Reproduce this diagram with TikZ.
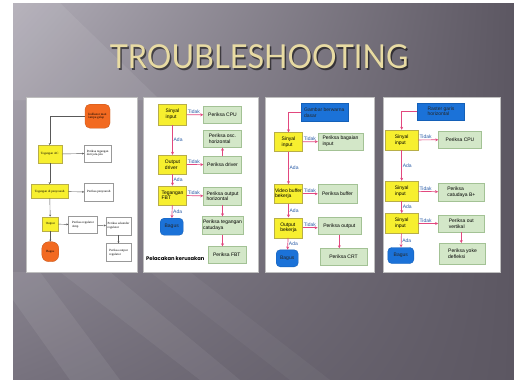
\documentclass[tikz,border=0pt]{standalone}
\usepackage{fontspec}
\setmainfont{Liberation Sans}
\newfontfamily\titlefont{Lato}
\newfontfamily\notefont{Poppins}
\newfontfamily\tinyfont{Liberation Serif}
\usetikzlibrary{arrows.meta,shadings}

\definecolor{slidedark}{HTML}{5C5762}
\definecolor{slidemid}{HTML}{77727E}
\definecolor{slidelight}{HTML}{B1ADB7}
\definecolor{titlegold}{HTML}{E8DBA3}
\definecolor{condfill}{HTML}{F7EF2F}
\definecolor{condedge}{HTML}{B8AE48}
\definecolor{checkfill}{HTML}{D3E7C8}
\definecolor{checkedge}{HTML}{A3C295}
\definecolor{goalfill}{HTML}{1B72D8}
\definecolor{goaledge}{HTML}{1460B8}
\definecolor{flowpink}{HTML}{E2487E}
\definecolor{tagblue}{HTML}{2B5DA8}
\definecolor{oldorange}{HTML}{F26A21}

\tikzset{
  box/.style={font=\fontsize{5}{5.6}\selectfont, align=left, inner sep=1pt, line width=0.4pt},
  cond/.style={box, draw=condedge, fill=condfill, minimum width=28pt, minimum height=20pt},
  check/.style={box, draw=checkedge, fill=checkfill, minimum width=38pt, minimum height=17pt},
  goal/.style={box, draw=goaledge, fill=goalfill, text=black!85, rounded corners=4pt, minimum width=23pt, minimum height=17pt},
  source/.style={box, draw=goaledge, fill=goalfill, text=black!85, minimum width=47pt, minimum height=18pt},
  flow/.style={draw=flowpink, line width=0.7pt, -{Stealth[length=3pt,width=3pt]}},
  flowtag/.style={font=\fontsize{5}{6}\selectfont, text=tagblue, inner sep=0.8pt},
  oldbox/.style={font=\tinyfont\fontsize{3.2}{3.8}\selectfont, align=left, inner sep=0.8pt, line width=0.3pt},
  oldcond/.style={oldbox, draw=condedge, fill=condfill},
  oldcheck/.style={oldbox, draw=black!40, fill=white},
  oldend/.style={oldbox, draw=oldorange!80!black, fill=oldorange, rounded corners=5pt},
  oldflow/.style={draw=black!65, line width=0.4pt, -{Stealth[length=2pt,width=2pt]}},
  panel/.style={fill=white, draw=black!25, line width=0.5pt},
  headline/.style={font=\titlefont\fontsize{33}{33}\selectfont, xscale=0.93},
}

\begin{document}
\begin{tikzpicture}[x=1pt,y=-1pt]
  \useasboundingbox (0,0) rectangle (514,380);
  % slide background
  \fill[white] (0,0) rectangle (514,380);
  \shade[upper left=slidelight, upper right=slidedark, lower left=slidemid, lower right=slidedark]
    (13,3) rectangle (514,380);
  \fill[white, opacity=0.08] (13,3) -- (60,3) -- (160,100) -- (13,100) -- cycle;
  \fill[white, opacity=0.07] (13,272) -- (40,272) -- (120,380) -- (70,380) -- (13,300) -- cycle;
  \fill[white, opacity=0.06] (60,272) -- (110,272) -- (240,380) -- (200,380) -- cycle;
  \fill[white, opacity=0.04] (150,272) -- (190,272) -- (330,380) -- (290,380) -- cycle;

  % title
  \node[headline, text=black, opacity=0.55] at (260.5,58.5) {TROUBLESHOOTING};
  \node (title) [headline, text=titlegold] at (259,57) {TROUBLESHOOTING};

  % panels
  \draw[panel] (26,97) rectangle (137,272);
  \draw[panel] (143,97) rectangle (258,272);
  \draw[panel] (265,97) rectangle (374,272);
  \draw[panel] (383,97) rectangle (500,272);

  % panel 1
  \node (ind) [oldend, minimum width=25pt, minimum height=24pt] at (97.5,116.2) {Indikator mati\\lampu gelap};
  \node (ac) [oldcond, minimum width=24pt, minimum height=18pt] at (49.7,154.2) {Tegangan AC};
  \node (pjala) [oldcheck, minimum width=27pt, minimum height=17pt] at (97.7,153.3) {Periksa tegangan\\dari jala-jala};
  \node (pen) [oldcond, minimum width=37pt, minimum height=14pt] at (49.7,191.3) {Tegangan di penyearah};
  \node (ppen) [oldcheck, minimum width=29pt, minimum height=18pt] at (98.8,192.2) {Periksa penyearah};
  \node (out1) [oldcond, minimum width=16pt, minimum height=14pt] at (50.3,223.8) {Output};
  \node (preg) [oldcheck, minimum width=29pt, minimum height=17pt] at (83,225) {Periksa regulator\\Amp};
  \node (psek) [oldcheck, minimum width=25pt, minimum height=18pt] at (118.5,225.8) {Periksa sekunder\\regulator};
  \node (pouter) [oldcheck, minimum width=25pt, minimum height=18pt] at (118.5,252.5) {Periksa output\\regulator};
  \node (bagus1) [oldend, rounded corners=7pt, minimum width=17pt, minimum height=20pt] at (50.3,251.7) {Bagus};
  \begin{scope}[oldflow]
    \draw (ind.west) -| (ac.north);
    \draw (ac) to (pjala);
    \draw (ac) to (pen);
    \draw (pen) to (ppen);
    \draw (pen) to (out1);
    \draw (out1) to (preg);
    \draw (preg) to (psek);
    \draw (psek) to (pouter);
    \draw (out1) to (bagus1);
  \end{scope}

  % panel 2
  \node (sin2) [cond, minimum height=21pt] at (172.5,114.5) {Sinyal\\input};
  \node (cpu2) [check] at (222.5,115) {Periksa CPU};
  \node (osc) [check] at (222.5,139) {Periksa osc.\\horizontal};
  \node (drv) [cond, minimum height=19pt] at (172.5,164.5) {Output\\driver};
  \node (pdrv) [check] at (222.5,164.7) {Periksa driver};
  \node (fbt) [cond, minimum height=19pt] at (172.5,195.3) {Tegangan\\FBT};
  \node (phor) [check, minimum height=18pt] at (222.5,196.2) {Periksa output\\horizontal};
  \node (bagus2) [goal] at (171.7,226.7) {Bagus};
  \node (catu2) [check, minimum height=18pt] at (222.5,225.5) {Periksa tegangan\\catudaya};
  \node (pfbt) [check] at (226.8,255) {Periksa FBT};
  \node (note) [font=\notefont\bfseries\fontsize{5.2}{6}\selectfont, inner sep=0pt] at (175.3,258.3) {Pelacakan kerusakan};
  \begin{scope}[flow]
    \draw (sin2) to node[flowtag, above right, pos=0] {Tidak} (cpu2);
    \draw (sin2) to node[flowtag, right] {Ada} (drv);
    \draw (drv) to node[flowtag, above right, pos=0] {Tidak} (pdrv);
    \draw (pdrv) to (osc);
    \draw (drv) to node[flowtag, right] {Ada} (fbt);
    \draw (fbt) to node[flowtag, above right, pos=0] {Tidak} (phor);
    \draw (fbt) to node[flowtag, right] {Ada} (bagus2);
    \draw (phor) to (catu2);
    \draw (catu2.south) to (catu2.south |- pfbt.north);
  \end{scope}

  % panel 3
  \node (src3) [source] at (324.3,112.5) {Gambar berwarna\\dasar};
  \node (sin3) [cond, minimum height=19pt] at (288.5,142) {Sinyal\\input};
  \node (pin3) [check, minimum width=45pt] at (340.5,141.3) {Periksa bagaian\\input};
  \node (vbuf) [cond, minimum height=19pt, inner xsep=0.2pt] at (288.5,193.8) {Video buffer\\bekerja};
  \node (pbuf) [check, minimum width=39pt, minimum height=19pt] at (337.5,193.8) {Periksa buffer};
  \node (out3) [cond] at (288.5,227.7) {Output\\bekerja};
  \node (pout3) [check, minimum width=43pt] at (339.3,226) {Periksa output};
  \node (bagus3) [goal, minimum width=22pt] at (287.2,258.3) {Bagus};
  \node (crt) [check, minimum width=47pt] at (343.5,257) {Periksa CRT};
  \begin{scope}[flow]
    \draw (src3.west) -| (sin3.north);
    \draw (sin3) to node[flowtag, above right, pos=0] {Tidak} (pin3);
    \draw (sin3) to node[flowtag, right] {Ada} (vbuf);
    \draw (vbuf) to node[flowtag, above right, pos=0] {Tidak} (pbuf);
    \draw (vbuf) to node[flowtag, right] {Ada} (out3);
    \draw (out3.east) to node[flowtag, above right, pos=0] {Tidak} (out3.east -| pout3.west);
    \draw (out3) to node[flowtag, right] {Ada} (bagus3);
    \draw (pout3.south) to (pout3.south |- crt.north);
  \end{scope}

  % panel 4
  \node (src4) [source, minimum height=17pt] at (441,111.2) {Raster garis\\horizontal};
  \node (sin4a) [cond, minimum width=33pt] at (401.7,140) {Sinyal\\input};
  \node (cpu4) [check, minimum width=43pt] at (460,139.7) {Periksa CPU};
  \node (sin4b) [cond, minimum width=33pt] at (401.7,191) {Sinyal\\input};
  \node (catu4) [check, minimum width=46pt, minimum height=18pt] at (461.3,192.2) {Periksa\\catudaya B+};
  \node (sin4c) [cond, minimum width=33pt] at (401.7,223.3) {Sinyal\\input};
  \node (vert) [check, minimum width=46pt] at (461.3,223.7) {Periksa out\\vertikal};
  \node (bagus4) [goal, minimum width=26pt, minimum height=16pt] at (400.8,255.5) {Bagus};
  \node (yoke) [check, minimum width=46pt, minimum height=21pt] at (462.5,253.8) {Periksa yoke\\defleksi};
  \begin{scope}[flow]
    \draw (src4.west) -| (sin4a.north);
    \draw (sin4a) to node[flowtag, above right, pos=0] {Tidak} (cpu4);
    \draw (sin4a) to node[flowtag, right] {Ada} (sin4b);
    \draw (sin4b) to node[flowtag, above right, pos=0] {Tidak} (catu4);
    \draw (sin4b) to node[flowtag, right] {Ada} (sin4c);
    \draw (sin4c) to node[flowtag, above right, pos=0] {Tidak} (vert);
    \draw (sin4c) to node[flowtag, right] {Ada} (bagus4);
    \draw (vert.south) to (vert.south |- yoke.north);
  \end{scope}
\end{tikzpicture}
\end{document}
